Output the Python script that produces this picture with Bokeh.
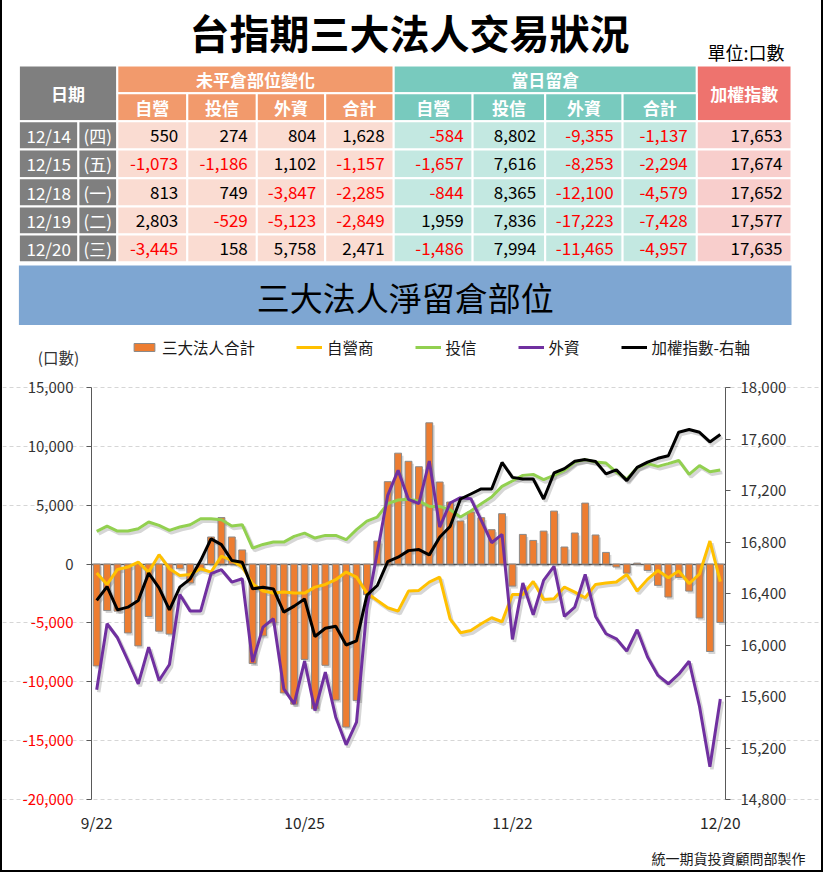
from bokeh.plotting import figure
from bokeh.models import (Range1d, LinearAxis, FixedTicker, NumeralTickFormatter, Legend,
                          LegendItem, Label, LabelSet, ColumnDataSource, Grid, Div)
from bokeh.layouts import column, row
from bokeh.embed import file_html
from bokeh.resources import INLINE
from bokeh.core.properties import value

FONT = "Noto Sans CJK TC"

# ---------------- chart data (daily, 9/22 .. 12/20) ----------------
dates = ["9/22", "9/25", "9/26", "9/27", "9/28", "10/2", "10/3", "10/4", "10/5", "10/6",
         "10/11", "10/12", "10/13", "10/16", "10/17", "10/18", "10/19", "10/20", "10/23", "10/24",
         "10/25", "10/26", "10/27", "10/30", "10/31", "11/1", "11/2", "11/3", "11/6", "11/7",
         "11/8", "11/9", "11/10", "11/13", "11/14", "11/15", "11/16", "11/17", "11/20", "11/21",
         "11/22", "11/23", "11/24", "11/27", "11/28", "11/29", "11/30", "12/1", "12/4", "12/5",
         "12/6", "12/7", "12/8", "12/11", "12/12", "12/13", "12/14", "12/15", "12/18", "12/19", "12/20"]
dealer = [-765, -1730, -455, -255, 170, -680, 795, -395, -965, -880,
          -395, -680, 680, 310, -255, -1670, -2295, -2465, -2380, -2465,
          -2465, -1955, -1730, -1330, -680, -1105, -2465, -3090, -3710, -3995,
          -2295, -2240, -1530, -1105, -4650, -5835, -5640, -5070, -4560, -4900,
          -2580, -2580, -1470, -3000, -2950, -1950, -2380, -2860, -1730, -1615,
          -1530, -880, -2295, -1300, -540, -1160, -584, -1657, -844, 1959, -1486]
trust = [2775, 3230, 2805, 2805, 3000, 3570, 3285, 2860, 3145, 3345,
         3855, 3855, 3770, 3230, 3345, 1360, 1670, 1870, 1870, 2350,
         2635, 2210, 2435, 2435, 2070, 2930, 3655, 3995, 5130, 5440,
         5500, 5355, 4900, 4900, 4620, 3995, 4505, 5130, 5695, 6600,
         7055, 7535, 7620, 7170, 7535, 7960, 8670, 8870, 8670, 8585,
         7820, 7225, 8190, 8530, 8300, 8530, 8802, 7616, 8365, 7836, 7994]
foreign = [-10680, -5070, -6260, -8190, -10170, -7055, -9890, -8530, -2580, -3995,
           -3995, -820, -480, -1530, -1245, -8330, -5355, -4645, -10595, -11870,
           -8245, -12440, -9180, -13005, -15355, -13430, -3700, 1000, 5835, 7960,
           5495, 5130, 8755, 3145, 5185, 5640, 5555, 3710, 1815, 2520,
           -6400, -1615, -4305, -1390, -200, -4450, -3650, -880, -4450, -5920,
           -6350, -7395, -5580, -7900, -9460, -10170, -9355, -8253, -12100, -17223, -11465]
total = [-8650, -3950, -4000, -5850, -6950, -4450, -5700, -5950, -400, -1600,
         -450, 2300, 3950, 2300, 1200, -8450, -6100, -5000, -10950, -11900,
         -8100, -12300, -8600, -11550, -13850, -11600, -2600, 1950, 7000, 9420,
         8730, 8270, 12000, 6970, 5270, 3660, 4420, 3940, 2920, 4280,
         -1870, 2520, 2010, 2800, 4500, 1450, 2640, 5180, 2470, 990,
         -250, -770, 80, -540, -1810, -2800, -1137, -2294, -4579, -7428, -4957]
taiex = [16346, 16454, 16273, 16294, 16346, 16558, 16444, 16273, 16449, 16514,
         16656, 16824, 16780, 16656, 16643, 16436, 16449, 16436, 16255, 16302,
         16358, 16066, 16130, 16145, 16000, 16032, 16387, 16462, 16648, 16682,
         16733, 16741, 16700, 16837, 16920, 17134, 17173, 17212, 17212, 17418,
         17302, 17289, 17289, 17134, 17336, 17370, 17427, 17440, 17425, 17329,
         17360, 17277, 17380, 17420, 17450, 17470, 17653, 17674, 17652, 17577, 17635]

# ---------------- table data ----------------
tbl_dates = ["12/14", "12/15", "12/18", "12/19", "12/20"]
tbl_weekday = ["(四)", "(五)", "(一)", "(二)", "(三)"]
chg_dealer = [550, -1073, 813, 2803, -3445]
chg_trust = [274, -1186, 749, -529, 158]
chg_foreign = [804, 1102, -3847, -5123, 5758]
chg_total = [1628, -1157, -2285, -2849, 2471]
oi_dealer = dealer[-5:]
oi_trust = trust[-5:]
oi_foreign = foreign[-5:]
oi_total = total[-5:]
tbl_taiex = taiex[-5:]

sub_headers = ["自營", "投信", "外資", "合計"]
left_ticks = [-20000, -15000, -10000, -5000, 0, 5000, 10000, 15000]
right_ticks = [14800, 15200, 15600, 16000, 16400, 16800, 17200, 17600, 18000]
x_label_idx = [0, 20, 40, 60]

GRAY = "#7F7F7F"
ORANGE = "#F29A6C"
TEAL = "#78CABE"
CORAL = "#EE736E"
PEACH = "#FADCD2"
LTEAL = "#C3E8E1"
PINK = "#F8CECC"
BANNER = "#7EA6D2"
AXIS = "#595959"

# ================= top part: title + table + banner (pixel layout) =================
col_edges = [18.4, 77.9, 116.8, 186.8, 256.3, 324.7, 393.2, 472.1, 544.7, 622.1, 696.3, 791.0]
row_edges = [65.0, 92.7, 120.7, 149.0, 177.7, 206.0, 234.0, 261.7]

top = figure(width=819, height=325, x_range=Range1d(2, 821), y_range=Range1d(325, 0),
             x_axis_type=None, y_axis_type=None, toolbar_location=None,
             output_backend="svg", min_border=0, outline_line_color=None, frame_align=False)

L, R, T, B, C = [], [], [], [], []


def cell(x0, x1, y0, y1, c):
    L.append(x0); R.append(x1); T.append(y0); B.append(y1); C.append(c)


cell(col_edges[0], col_edges[2], row_edges[0], row_edges[2], GRAY)
cell(col_edges[2], col_edges[6], row_edges[0], row_edges[1], ORANGE)
cell(col_edges[6], col_edges[10], row_edges[0], row_edges[1], TEAL)
cell(col_edges[10], col_edges[11], row_edges[0], row_edges[2], CORAL)
for j in range(2, 10):
    cell(col_edges[j], col_edges[j + 1], row_edges[1], row_edges[2], ORANGE if j < 6 else TEAL)
for r in range(5):
    for j in range(11):
        c = GRAY if j < 2 else PEACH if j < 6 else LTEAL if j < 10 else PINK
        cell(col_edges[j], col_edges[j + 1], row_edges[2 + r], row_edges[3 + r], c)
top.quad(left=L, right=R, top=T, bottom=B, fill_color=C, line_color="white", line_width=2)
top.quad(left=[col_edges[0]], right=[col_edges[-1]], top=[265], bottom=[325],
         fill_color=BANNER, line_color=None)


def txt(xs, ys, texts, size, color="black", align="center", style="normal"):
    top.text(x=xs, y=ys, text=texts, text_font=value(FONT), text_font_size=size,
             text_font_style=style, text_align=align, text_baseline="middle", text_color=color)


def mid(a, b):
    return (a + b) / 2


txt([409], [31], ["台指期三大法人交易狀況"], "40px", style="bold")
txt([784], [51], ["單位:口數"], "18px", align="right")
txt([mid(col_edges[0], col_edges[2]), mid(col_edges[2], col_edges[6]),
     mid(col_edges[6], col_edges[10]), mid(col_edges[10], col_edges[11])],
    [mid(row_edges[0], row_edges[2]), mid(row_edges[0], row_edges[1]),
     mid(row_edges[0], row_edges[1]), mid(row_edges[0], row_edges[2])],
    ["日期", "未平倉部位變化", "當日留倉", "加權指數"], "17px", color="white", style="bold")
txt([mid(col_edges[j], col_edges[j + 1]) for j in range(2, 10)],
    [mid(row_edges[1], row_edges[2])] * 8, sub_headers * 2, "17px", color="white", style="bold")

row_mid = [mid(row_edges[2 + r], row_edges[3 + r]) for r in range(5)]
txt([mid(col_edges[0], col_edges[1])] * 5, row_mid, tbl_dates, "17px", color="white")
txt([mid(col_edges[1], col_edges[2])] * 5, row_mid, tbl_weekday, "17px", color="white")

num_cols = [chg_dealer, chg_trust, chg_foreign, chg_total, oi_dealer, oi_trust, oi_foreign, oi_total, tbl_taiex]
nx, ny, nt, nc = [], [], [], []
for k, colvals in enumerate(num_cols):
    for r, v in enumerate(colvals):
        nx.append(col_edges[k + 3] - 9)
        ny.append(row_mid[r])
        nt.append(f"{v:,}")
        nc.append("#FF0000" if v < 0 else "black")
txt(nx, ny, nt, "17px", color=nc, align="right")
txt([mid(col_edges[0], col_edges[-1])], [296], ["三大法人淨留倉部位"], "33px")

# ================= chart =================
N = len(dates)
CW, CH = 819, 545            # chart canvas (starts at page x=2, y=325)
PL, PT = 89, 62              # plot area offset inside the canvas
PW, PH = 634, 412            # plot area size
ux = PW / N                                              # px per day
uy = (left_ticks[-1] - left_ticks[0]) / PH               # value per px, left axis
ur = (right_ticks[-1] - right_ticks[0]) / PH             # value per px, right axis
x_lo, x_hi = -0.5, N - 0.5
SH_X, SH_Y = 2.0, 2.5        # drop-shadow offset in px


def dx(page_x):
    return x_lo + (page_x - 2 - PL) / ux


def dy(page_y):
    return left_ticks[-1] + (325 + PT - page_y) * uy


src = ColumnDataSource(dict(i=list(range(N)), date=dates, dealer=dealer, trust=trust,
                            foreign=foreign, total=total, taiex=taiex))

xs0, xs1 = x_lo - PL / ux, x_hi + (CW - PL - PW) / ux
ys0, ys1 = left_ticks[0] - (CH - PT - PH) * uy, left_ticks[-1] + PT * uy
rs0, rs1 = right_ticks[0] - (CH - PT - PH) * ur, right_ticks[-1] + PT * ur

chart = figure(width=CW, height=CH, x_range=Range1d(xs0, xs1), y_range=Range1d(ys0, ys1),
               x_axis_type=None, y_axis_type=None, toolbar_location=None,
               output_backend="svg", min_border=0, outline_line_color=None, frame_align=False)
chart.extra_y_ranges = {"idx": Range1d(rs0, rs1),
                        "sh": Range1d(ys0 + SH_Y * uy, ys1 + SH_Y * uy),
                        "shidx": Range1d(rs0 + SH_Y * ur, rs1 + SH_Y * ur)}
chart.extra_x_ranges = {"sh": Range1d(xs0 - SH_X / ux, xs1 - SH_X / ux)}

grid = Grid(dimension=1, ticker=FixedTicker(ticks=[t for t in left_ticks if t != 0]),
            bounds=(x_lo, x_hi), grid_line_color="#D6D6D6", grid_line_dash="4 3",
            grid_line_width=1)
chart.add_layout(grid)


def style_axis(ax, size="15px", color="#333333"):
    ax.major_label_text_font = FONT
    ax.major_label_text_font_size = size
    ax.major_label_text_color = color
    ax.minor_tick_line_color = None


# zero (category) axis line
zax = LinearAxis(fixed_location=0, bounds=(x_lo, x_hi), ticker=FixedTicker(ticks=[]),
                 axis_line_color=AXIS, axis_line_width=1.5, level="underlay")
style_axis(zax)
chart.add_layout(zax, "below")

# date labels
xa = LinearAxis(fixed_location=left_ticks[0], ticker=FixedTicker(ticks=x_label_idx),
                axis_line_color=None, major_tick_line_color=None, major_tick_out=0,
                major_label_standoff=11)
xa.major_label_overrides = {i: dates[i] for i in x_label_idx}
style_axis(xa, "15.5px", "#262626")
chart.add_layout(xa, "below")

# left value axis (negative labels in red, drawn below)
ya = LinearAxis(fixed_location=x_lo, bounds=(left_ticks[0], left_ticks[-1]),
                ticker=FixedTicker(ticks=left_ticks), formatter=NumeralTickFormatter(format="0,0"),
                axis_line_color=AXIS, major_tick_line_color=AXIS, major_tick_out=5, major_tick_in=0,
                major_label_standoff=13)
ya.major_label_overrides = {t: "" for t in left_ticks if t < 0}
style_axis(ya)
chart.add_layout(ya, "left")

neg_ticks = [t for t in left_ticks if t < 0]
neg_src = ColumnDataSource(dict(y=neg_ticks, x=[dx(73)] * len(neg_ticks),
                                text=[f"{t:,}" for t in neg_ticks]))
chart.add_layout(LabelSet(x="x", y="y", text="text", source=neg_src, text_align="right",
                          text_baseline="middle", text_color="#FF0000", text_font=value(FONT),
                          text_font_size="15px"))

# right index axis
ra = LinearAxis(y_range_name="idx", fixed_location=x_hi, bounds=(right_ticks[0], right_ticks[-1]),
                ticker=FixedTicker(ticks=right_ticks), formatter=NumeralTickFormatter(format="0,0"),
                axis_line_color=AXIS, major_tick_line_color=AXIS, major_tick_out=5, major_tick_in=0,
                major_label_standoff=10)
style_axis(ra)
chart.add_layout(ra, "right")

# soft drop shadows (same data, drawn through slightly shifted scales)
chart.vbar(x="i", top="total", width=0.66, source=src, x_range_name="sh", y_range_name="sh",
           fill_color="black", fill_alpha=0.16, line_color=None)
for col in ["dealer", "trust", "foreign"]:
    chart.line("i", col, source=src, x_range_name="sh", y_range_name="sh",
               line_color="black", line_alpha=0.16, line_width=3.5)
chart.line("i", "taiex", source=src, x_range_name="sh", y_range_name="shidx",
           line_color="black", line_alpha=0.16, line_width=3.5)

bars = chart.vbar(x="i", top="total", width=0.66, source=src, fill_color="#ED7D31",
                  line_color="#8A8A8A", line_width=1)
l_dealer = chart.line("i", "dealer", source=src, line_color="#FFC000", line_width=3)
l_trust = chart.line("i", "trust", source=src, line_color="#92D050", line_width=3)
l_foreign = chart.line("i", "foreign", source=src, line_color="#7030A0", line_width=3)
l_taiex = chart.line("i", "taiex", source=src, line_color="black", line_width=3, y_range_name="idx")

# legend: tuple location is the legend's bottom-left corner, measured from the canvas bottom-left
legend = Legend(items=[LegendItem(label="三大法人合計", renderers=[bars]),
                       LegendItem(label="自營商", renderers=[l_dealer]),
                       LegendItem(label="投信", renderers=[l_trust]),
                       LegendItem(label="外資", renderers=[l_foreign]),
                       LegendItem(label="加權指數-右軸", renderers=[l_taiex])],
                orientation="horizontal", location=(129, CH - 33),
                glyph_width=26, glyph_height=10, label_standoff=5, spacing=41,
                padding=0, margin=0, border_line_color=None, background_fill_alpha=0,
                label_text_font=FONT, label_text_font_size="15.5px", label_text_color="#1A1A1A")
chart.add_layout(legend)

chart.add_layout(Label(x=dx(58), y=dy(356.5), text="(口數)", text_align="center",
                       text_baseline="middle", text_font=FONT, text_font_size="15.5px",
                       text_color="#333333"))
chart.add_layout(Label(x=dx(805), y=dy(857), text="統一期貨投資顧問部製作", text_align="right",
                       text_baseline="middle", text_font=FONT, text_font_size="14px",
                       text_color="#1A1A1A"))

# ================= frame border + layout =================
lb = Div(text="", width=2, height=870, margin=0, styles={"background-color": "black"})
rb = Div(text="", width=2, height=870, margin=0, styles={"background-color": "black"})
bb = Div(text="", width=823, height=2, margin=0, styles={"background-color": "black"})
layout = column(row(lb, column(top, chart, spacing=0), rb, spacing=0), bb, spacing=0)

open("out.html", "w").write(file_html(layout, INLINE))
